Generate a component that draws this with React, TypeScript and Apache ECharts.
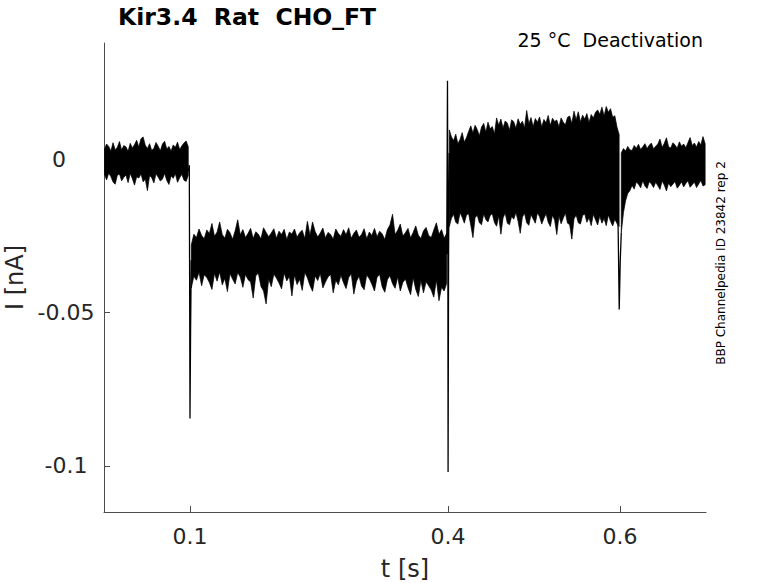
import React, { useEffect, useRef } from "react";
import * as echarts from "echarts";

// ---- axis ticks ----
const xTicks = [0.1, 0.4, 0.6];
const xTickLabels = ["0.1", "0.4", "0.6"];
const yTicks = [-0.1, -0.05, 0];
const yTickLabels = ["-0.1", "-0.05", "0"];

// ---- noise envelopes of the overlaid sweeps (values in pA) ----
// segment A: holding, t = 0.0005 s .. step 0.0025 s
const bandAStart = 0.0005;
const bandAStep = 0.0025;
const bandAUpper = [3.2, 4.9, 4.1, 2.6, 5.3, 3.0, 3.8, 5.7, 2.9, 4.4, 4.0, 2.5, 5.1, 3.6, 4.7, 6.1, 3.9, 6.6, 7.2, 4.5, 3.4, 5.0, 2.8, 3.5, 5.4, 4.2, 2.7, 4.9, 5.8, 3.3, 4.1, 2.6, 4.6, 3.8, 5.5, 3.1, 4.3, 5.2, 5.9, 4.0];
const bandALower = [-5.0, -6.8, -4.6, -5.7, -7.5, -8.2, -5.3, -4.9, -7.1, -6.0, -5.2, -7.7, -4.7, -6.4, -8.5, -5.8, -6.2, -4.9, -7.4, -6.6, -10.3, -5.4, -6.1, -7.8, -4.8, -5.9, -7.2, -6.5, -4.7, -7.0, -8.3, -5.5, -6.3, -4.8, -7.6, -6.1, -5.0, -6.9, -7.3, -5.3];

// segment B: activation plateau, t = 0.1015 s .. step 0.003 s
const bandBStart = 0.1015;
const bandBStep = 0.003;
const bandBUpper = [
  -28.0, -24.5, -25.6, -22.8, -24.9, -26.0, -23.1, -24.3, -21.0, -25.2,
  -23.8, -20.5, -24.6, -25.8, -22.9, -24.0, -26.1, -23.4, -19.8, -24.7,
  -23.0, -25.6, -24.2, -22.6, -25.9, -23.7, -24.5, -26.0, -22.4, -23.9,
  -25.3, -24.1, -22.7, -25.8, -23.5, -24.6, -22.9, -26.2, -23.8, -24.4,
  -22.8, -25.5, -24.0, -23.2, -25.9, -20.3, -24.8, -20.5, -23.6, -25.4,
  -24.1, -22.5, -25.7, -23.9, -24.6, -26.1, -22.8, -24.3, -25.2, -23.0,
  -24.7, -22.4, -25.8, -24.2, -23.1, -25.5, -24.6, -22.7, -26.0, -23.8,
  -24.9, -22.6, -25.3, -23.5, -24.4, -26.2, -23.0, -21.5, -18.0, -24.6,
  -23.2, -21.2, -25.1, -24.0, -22.6, -25.7, -23.9, -21.8, -24.8, -25.9,
  -23.4, -22.3, -24.9, -25.6, -23.1, -20.8, -24.5, -23.0, -25.8, -24.2,
];
const bandBLower = [
  -42.0, -38.2, -39.5, -36.9, -41.3, -37.7, -38.6, -40.2, -42.5, -37.3,
  -39.8, -36.8, -41.0, -38.9, -43.2, -37.4, -39.1, -40.7, -37.0, -38.5,
  -41.8, -37.6, -39.3, -40.1, -45.3, -38.0, -37.2, -41.5, -43.0, -47.2,
  -39.0, -41.6, -37.5, -38.8, -40.4, -42.3, -37.1, -39.7, -38.3, -44.6,
  -37.8, -40.9, -39.2, -42.8, -37.0, -38.7, -41.2, -43.1, -38.1, -39.6,
  -37.3, -42.0, -40.1, -38.4, -37.6, -43.6, -39.5, -41.0, -37.9, -40.3,
  -42.2, -38.6, -37.4, -44.0, -39.9, -38.2, -41.4, -42.6, -37.8, -39.0,
  -40.8, -43.0, -38.5, -37.6, -41.7, -43.4, -39.3, -38.0, -40.6, -42.1,
  -38.4, -43.0, -40.2, -39.1, -41.9, -44.2, -38.7, -42.5, -44.8, -39.6,
  -43.6, -40.0, -41.3, -42.7, -45.0, -39.4, -46.2, -41.8, -43.0, -40.5,
];

// segment C: deactivation steps (all sweeps), t = 0.4015 s .. step 0.0025 s
const bandCStart = 0.4015;
const bandCStep = 0.0025;
const bandCUpper = [
  9.5, 7.2, 6.0, 8.1, 5.0, 6.4, 8.6, 5.5, 7.0, 9.0,
  10.8, 8.5, 11.0, 9.6, 7.6, 10.4, 11.6, 8.8, 12.0, 9.9,
  10.6, 8.2, 13.4, 11.0, 13.0, 10.1, 12.4, 11.7, 9.4, 12.8,
  12.1, 10.0, 13.1, 11.3, 12.3, 10.2, 15.8, 11.5, 13.5, 10.6,
  13.2, 12.0, 13.7, 10.4, 12.9, 11.8, 14.2, 10.9, 13.3, 12.2,
  12.7, 10.5, 13.4, 12.0, 11.2, 13.6, 14.0, 11.6, 15.6, 12.8,
  15.4, 12.1, 14.3, 13.0, 14.8, 11.9, 14.5, 13.4, 15.2, 16.0,
  14.6, 16.9, 14.0, 17.1, 15.2, 16.4, 13.6, 14.1, 10.4, 8.0,
];
const bandCLower = [
  -22.0, -19.3, -18.0, -20.6, -21.2, -17.5, -19.0, -20.9, -18.2, -17.8,
  -21.6, -25.6, -19.1, -18.3, -20.8, -21.4, -17.9, -19.7, -20.5, -18.4,
  -17.8, -20.7, -21.9, -18.6, -24.5, -19.2, -17.6, -20.9, -21.4, -18.7,
  -19.6, -17.4, -20.3, -24.2, -18.9, -17.7, -20.8, -21.6, -18.1, -19.5,
  -20.9, -17.5, -18.8, -21.2, -19.4, -17.8, -20.6, -22.0, -18.3, -19.9,
  -24.6, -18.6, -21.1, -19.3, -17.6, -20.9, -21.4, -26.1, -19.5, -18.2,
  -20.8, -21.2, -18.4, -17.9, -20.6, -19.1, -21.7, -18.0, -19.8, -21.5,
  -18.6, -20.9, -19.4, -21.7, -18.2, -20.3, -21.8, -19.6, -21.0, -22.0,
];

// segment D: return to holding, t = 0.6015 s .. step 0.0025 s
const bandDStart = 0.6015;
const bandDStep = 0.0025;
const bandDUpper = [2.0, 3.4, 2.6, 4.1, 3.0, 2.8, 4.4, 3.5, 4.8, 3.1, 4.0, 5.0, 3.4, 4.5, 5.2, 3.3, 4.2, 4.9, 6.5, 3.8, 5.1, 6.9, 4.0, 3.6, 5.3, 4.6, 3.5, 5.6, 4.2, 4.9, 3.7, 5.3, 7.0, 4.4, 5.2, 3.9, 5.7, 4.6, 7.3, 5.0];
const bandDLower = [-24.0, -17.5, -13.6, -11.2, -10.3, -8.6, -9.8, -7.5, -8.2, -9.4, -7.1, -8.8, -9.6, -7.4, -8.1, -9.3, -7.6, -8.7, -9.9, -7.2, -8.5, -10.4, -7.8, -9.0, -8.2, -7.3, -9.5, -8.6, -7.4, -9.1, -8.0, -7.1, -9.2, -8.4, -7.5, -9.3, -8.1, -7.0, -8.8, -8.4];

// ---- capacitive transients at the voltage steps (t in s, I in pA) ----
const spike01T = [0.098, 0.0992, 0.1, 0.1007, 0.1015];
const spike01I = [-4, -2, -84.5, -55, -33];
const spike04T = [0.3985, 0.3994, 0.3998, 0.4001, 0.4007, 0.4015];
const spike04I = [-31, 25.5, -15, -102, -30, 2];
const spike06T = [0.5965, 0.5978, 0.5991, 0.6003, 0.6015];
const spike06I = [-19, -22, -49, -33, -24];

const FONT = "DejaVu Sans";

export default function App() {
  const ref = useRef<HTMLDivElement>(null);

  useEffect(() => {
    if (!ref.current) return;
    const chart = echarts.init(ref.current, null, { renderer: "svg" });

    const bands = [
      { start: bandAStart, step: bandAStep, upper: bandAUpper, lower: bandALower },
      { start: bandBStart, step: bandBStep, upper: bandBUpper, lower: bandBLower },
      { start: bandCStart, step: bandCStep, upper: bandCUpper, lower: bandCLower },
      { start: bandDStart, step: bandDStep, upper: bandDUpper, lower: bandDLower },
    ];
    const pA = (v: number) => v / 1000;
    const spikeSeries = (ts: number[], is: number[]) => ({
      type: "line",
      data: ts.map((t, i) => [t, pA(is[i])]),
      symbol: "none",
      silent: true,
      lineStyle: { color: "#000", width: 1.3 },
      z: 3,
    });
    const idx = (ticks: number[], v: number) => ticks.findIndex((t) => Math.abs(t - v) < 1e-9);

    const option = {
      animation: false,
      textStyle: { fontFamily: FONT },
      grid: { left: 104, right: 72, top: 43, bottom: 71, containLabel: false, outerBoundsMode: "none" },
      xAxis: {
        type: "value",
        min: 0,
        max: 0.7,
        name: "t [s]",
        nameLocation: "middle",
        nameGap: 45,
        nameTextStyle: { fontSize: 24, color: "#262626", fontFamily: FONT },
        splitLine: { show: false },
        axisLine: { show: true, onZero: false, lineStyle: { color: "#4d4d4d", width: 1 } },
        axisTick: { show: true, inside: true, length: 6, customValues: xTicks, lineStyle: { color: "#4d4d4d" } },
        axisLabel: {
          customValues: xTicks,
          formatter: (v: number) => {
            const k = idx(xTicks, v);
            return k >= 0 ? xTickLabels[k] : "";
          },
          fontSize: 22,
          color: "#262626",
          margin: 13,
          fontFamily: FONT,
        },
      },
      yAxis: {
        type: "value",
        min: -0.115,
        max: 0.0378,
        name: "I [nA]",
        nameLocation: "middle",
        nameGap: 74,
        nameTextStyle: { fontSize: 24, color: "#262626", fontFamily: FONT },
        splitLine: { show: false },
        axisLine: { show: true, onZero: false, lineStyle: { color: "#4d4d4d", width: 1 } },
        axisTick: { show: true, inside: true, length: 6, customValues: yTicks, lineStyle: { color: "#4d4d4d" } },
        axisLabel: {
          customValues: yTicks,
          formatter: (v: number) => {
            const k = idx(yTicks, v);
            if (k < 0) return "";
            const s = yTickLabels[k];
            return s.length === 1 ? "{z|" + s + "}" : s;
          },
          align: "center",
          fontSize: 22,
          color: "#262626",
          margin: 38,
          fontFamily: FONT,
          rich: {
            z: { fontSize: 22, color: "#262626", fontFamily: FONT, padding: [0, 14, 0, 0] },
          },
        },
      },
      graphic: [
        {
          type: "text",
          left: 118,
          top: 5,
          style: {
            text: "Kir3.4  Rat  CHO_FT",
            fontSize: 23.5,
            fontWeight: "bold",
            fontFamily: FONT,
            fill: "#000",
          },
        },
        {
          type: "text",
          right: 75,
          top: 30,
          style: {
            text: "25 °C  Deactivation",
            fontSize: 19,
            fontFamily: FONT,
            fill: "#000",
          },
        },
        {
          type: "text",
          x: 721,
          y: 263,
          rotation: Math.PI / 2,
          style: {
            text: "BBP Channelpedia ID 23842 rep 2",
            fontSize: 12,
            fontFamily: FONT,
            fill: "#000",
            align: "center",
            verticalAlign: "middle",
          },
        },
      ],
      series: [
        {
          type: "custom",
          silent: true,
          clip: true,
          z: 2,
          data: bands.map((b) => [b.start, 0]),
          renderItem: (params: any, api: any) => {
            const b = bands[params.dataIndex];
            const pts: number[][] = [];
            b.upper.forEach((v, i) => pts.push(api.coord([b.start + i * b.step, pA(v)])));
            for (let i = b.lower.length - 1; i >= 0; i--) {
              pts.push(api.coord([b.start + i * b.step, pA(b.lower[i])]));
            }
            return {
              type: "polygon",
              shape: { points: pts },
              style: { fill: "#000", stroke: "#000", lineWidth: 0.7 },
            };
          },
        },
        spikeSeries(spike01T, spike01I),
        spikeSeries(spike04T, spike04I),
        spikeSeries(spike06T, spike06I),
      ],
    };

    chart.setOption(option as any);
    return () => chart.dispose();
  }, []);

  return (
    <div
      ref={ref}
      style={{ position: "fixed", left: 0, top: 0, width: 778, height: 583, background: "#fff" }}
    />
  );
}
